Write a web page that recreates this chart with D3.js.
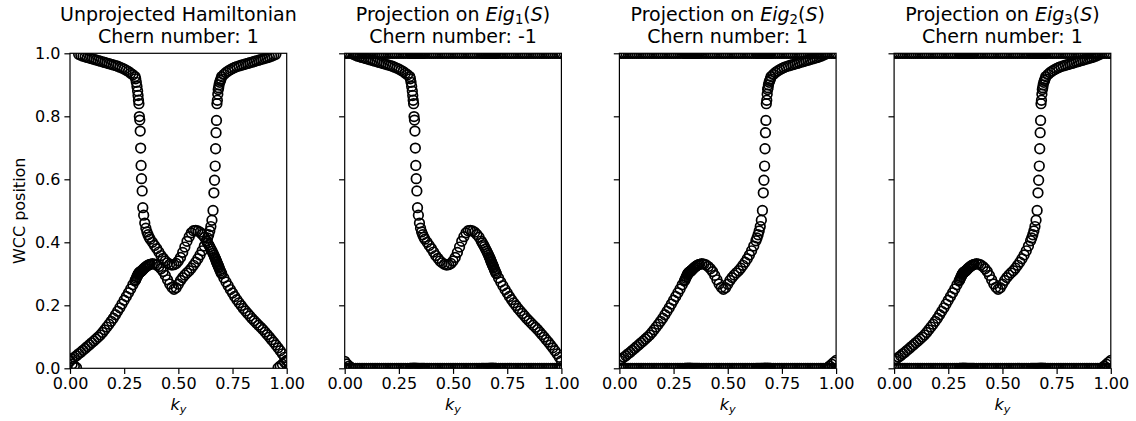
<!DOCTYPE html>
<meta charset="utf-8">
<script src="https://d3js.org/d3.v7.min.js"></script>
<style>
  body { margin: 0; background: #fff; }
  text { font-family: "DejaVu Sans", sans-serif; fill: #000; }
</style>
<div id="chart"></div>
<script>
  // k_y sampling (refined around the two WCC jumps)
  const ky = [
    0.00, 0.01, 0.02, 0.03, 0.04, 0.05, 0.06, 0.07, 0.08, 0.09,
    0.10, 0.11, 0.12, 0.13, 0.14, 0.15, 0.16, 0.17, 0.18, 0.19,
    0.20, 0.21, 0.22, 0.23, 0.24, 0.25, 0.26, 0.27, 0.28, 0.29,
    0.300, 0.303, 0.306, 0.309, 0.312, 0.314, 0.316, 0.318, 0.320, 0.322, 0.324,
    0.326, 0.328, 0.330, 0.333, 0.336, 0.340, 0.345, 0.350, 0.355, 0.360, 0.365,
    0.37, 0.38, 0.39, 0.40, 0.41, 0.42, 0.43, 0.44, 0.45, 0.46,
    0.47, 0.48, 0.49, 0.50, 0.51, 0.52, 0.53, 0.54, 0.55, 0.56,
    0.57, 0.58, 0.59, 0.60, 0.61, 0.62, 0.63,
    0.635, 0.640, 0.645, 0.650, 0.655, 0.660, 0.664, 0.667, 0.670, 0.672, 0.674,
    0.676, 0.678, 0.680, 0.682, 0.684, 0.686, 0.688, 0.691, 0.694, 0.697,
    0.70, 0.71, 0.72, 0.73, 0.74, 0.75, 0.76, 0.77, 0.78, 0.79,
    0.80, 0.81, 0.82, 0.83, 0.84, 0.85, 0.86, 0.87, 0.88, 0.89,
    0.90, 0.91, 0.92, 0.93, 0.94, 0.95, 0.96, 0.97, 0.98, 0.99, 1.00
  ];

  // WCC band with Chern +1 (seen in Eig2, Eig3 and the full Hamiltonian)
  const wccBandA = [
    0.025, 0.030, 0.035, 0.040, 0.046, 0.051, 0.057, 0.063, 0.069, 0.075,
    0.081, 0.087, 0.093, 0.099, 0.106, 0.114, 0.122, 0.131, 0.140, 0.149,
    0.159, 0.170, 0.181, 0.192, 0.204, 0.216, 0.228, 0.240, 0.252, 0.265,
    0.277, 0.281, 0.286, 0.291, 0.295, 0.298, 0.300, 0.302, 0.304, 0.305, 0.306,
    0.307, 0.308, 0.309, 0.311, 0.313, 0.316, 0.319, 0.322, 0.325, 0.327, 0.329,
    0.330, 0.332, 0.331, 0.328, 0.323, 0.316, 0.307, 0.295, 0.281, 0.268,
    0.257, 0.251, 0.256, 0.267, 0.279, 0.288, 0.296, 0.303, 0.310, 0.318,
    0.327, 0.337, 0.348, 0.360, 0.373, 0.388, 0.405,
    0.414, 0.424, 0.436, 0.450, 0.470, 0.501, 0.557, 0.597, 0.642, 0.697, 0.748,
    0.787, 0.840, 0.851, 0.870, 0.885, 0.891, 0.900, 0.908, 0.914, 0.919,
    0.926, 0.933, 0.939, 0.944, 0.948, 0.952, 0.955, 0.958, 0.960, 0.962,
    0.964, 0.966, 0.968, 0.970, 0.972, 0.974, 0.976, 0.978, 0.980, 0.982,
    0.984, 0.986, 0.988, 0.991, 0.994, 0.997, 0.001, 0.007, 0.013, 0.019, 0.025
  ];

  // WCC band with Chern -1 (seen in Eig1 and the full Hamiltonian)
  const wccBandB = [
    0.022, 0.014, 0.007, 0.002, 0.997, 0.994, 0.991, 0.989, 0.987, 0.985,
    0.983, 0.981, 0.979, 0.977, 0.975, 0.973, 0.971, 0.969, 0.967, 0.965,
    0.963, 0.961, 0.959, 0.956, 0.953, 0.950, 0.946, 0.942, 0.937, 0.932,
    0.926, 0.919, 0.908, 0.895, 0.880, 0.866, 0.851, 0.840, 0.799, 0.788, 0.753,
    0.699, 0.644, 0.602, 0.563, 0.510, 0.486, 0.461, 0.445, 0.433, 0.424, 0.416,
    0.410, 0.400, 0.390, 0.380, 0.369, 0.358, 0.349, 0.341, 0.335, 0.330,
    0.328, 0.329, 0.333, 0.341, 0.352, 0.368, 0.385, 0.403, 0.418, 0.430,
    0.437, 0.438, 0.436, 0.432, 0.425, 0.416, 0.404,
    0.398, 0.392, 0.386, 0.379, 0.372, 0.365, 0.359, 0.354, 0.349, 0.346, 0.342,
    0.339, 0.336, 0.332, 0.329, 0.326, 0.322, 0.319, 0.314, 0.309, 0.304,
    0.300, 0.287, 0.274, 0.262, 0.250, 0.239, 0.228, 0.218, 0.208, 0.199,
    0.190, 0.182, 0.174, 0.166, 0.158, 0.151, 0.144, 0.137, 0.130, 0.123,
    0.115, 0.107, 0.099, 0.091, 0.083, 0.074, 0.065, 0.056, 0.046, 0.035, 0.024
  ];

  // trivial WCCs left by the projection, pinned at 0 / 1
  const trivialWcc = [0.0, 1.0];

  const xTicks = [0, 0.25, 0.5, 0.75, 1];
  const yTicks = [0, 0.2, 0.4, 0.6, 0.8, 1.0];
  const chernNumbers = [1, -1, 1, 1];
  const eigIndex = [null, 1, 2, 3];

  const width = 1136, height = 421;
  const marginLeft = 70, panelW = 216.7, gap = 58;
  const plotTop = 53.3, plotH = 315;

  const svg = d3.select("#chart").append("svg")
    .attr("width", width)
    .attr("height", height);

  const x = d3.scaleLinear().domain([0, 1]).range([0, panelW]);
  const y = d3.scaleLinear().domain([0, 1]).range([plotH, 0]);

  const band = vals => ky.map((k, i) => ({k: k, w: vals[i]}));
  const flat = ky.flatMap(k => trivialWcc.map(w => ({k: k, w: w})));

  const panels = [
    band(wccBandA).concat(band(wccBandB)),
    flat.concat(band(wccBandB)),
    flat.concat(band(wccBandA)),
    flat.concat(band(wccBandA))
  ];

  panels.forEach((pts, p) => {
    const g = svg.append("g")
      .attr("transform", `translate(${marginLeft + p * (panelW + gap)},${plotTop})`);

    g.append("clipPath").attr("id", "clip" + p)
      .append("rect").attr("width", panelW).attr("height", plotH);

    g.append("g").attr("clip-path", `url(#clip${p})`)
      .selectAll("circle")
      .data(pts)
      .join("circle")
        .attr("cx", d => x(d.k))
        .attr("cy", d => y(d.w))
        .attr("r", 4.8)
        .attr("fill", "none")
        .attr("stroke", "#000")
        .attr("stroke-width", 1.7);

    // axes
    const xa = g.append("g").attr("transform", `translate(0,${plotH})`)
      .call(d3.axisBottom(x).tickValues(xTicks).tickFormat(d3.format(".2f"))
        .tickSize(5.6).tickPadding(4).tickSizeOuter(0));
    const ya = g.append("g")
      .call(d3.axisLeft(y).tickValues(yTicks)
        .tickFormat(p === 0 ? d3.format(".1f") : "")
        .tickSize(5.6).tickPadding(4).tickSizeOuter(0));
    [xa, ya].forEach(a => {
      a.select(".domain").remove();
      a.selectAll("line").attr("stroke-width", 1.2);
      a.selectAll("text").attr("font-size", 16).attr("font-family", "DejaVu Sans");
    });

    g.append("rect")
      .attr("width", panelW).attr("height", plotH)
      .attr("fill", "none").attr("stroke", "#000").attr("stroke-width", 1.2);

    // titles
    const cx = panelW / 2;
    const t1 = g.append("text").attr("x", cx).attr("y", 21 - plotTop)
      .attr("text-anchor", "middle").attr("font-size", 19);
    if (eigIndex[p] === null) {
      t1.text("Unprojected Hamiltonian");
    } else {
      t1.append("tspan").text("Projection on ");
      t1.append("tspan").attr("font-style", "italic").text("Eig");
      t1.append("tspan").attr("font-size", 13.3).attr("dy", 3).text(eigIndex[p]);
      t1.append("tspan").attr("dy", -3).text("(");
      t1.append("tspan").attr("font-style", "italic").text("S");
      t1.append("tspan").text(")");
    }
    g.append("text").attr("x", cx).attr("y", 43 - plotTop)
      .attr("text-anchor", "middle").attr("font-size", 19)
      .text("Chern number: " + chernNumbers[p]);

    // x label
    const xl = g.append("text").attr("x", cx).attr("y", 410 - plotTop)
      .attr("text-anchor", "middle").attr("font-size", 16);
    xl.append("tspan").attr("font-style", "italic").text("k");
    xl.append("tspan").attr("font-style", "italic").attr("font-size", 11.2)
      .attr("dy", 3.5).text("y");

    if (p === 0) {
      g.append("text")
        .attr("transform", `translate(${25 - marginLeft},${plotH / 2}) rotate(-90)`)
        .attr("text-anchor", "middle").attr("font-size", 16)
        .text("WCC position");
    }
  });
</script>
